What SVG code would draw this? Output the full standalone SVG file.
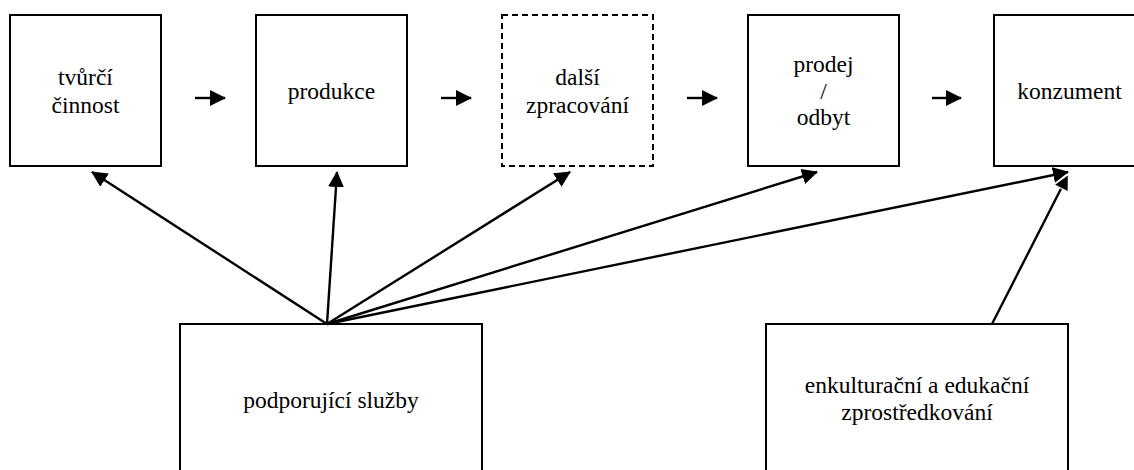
<svg xmlns="http://www.w3.org/2000/svg" width="1134" height="470" viewBox="0 0 1134 470">
  <defs>
    <marker id="head" viewBox="0 0 16 16" refX="15" refY="8" markerWidth="16" markerHeight="16" markerUnits="userSpaceOnUse" orient="auto">
      <path d="M0,0 L16,8 L0,16 Z" fill="#000"/>
    </marker>
    <!-- same head with a thin white rim, used where two heads overlap -->
    <marker id="head-rim" viewBox="-2 -2 20 20" refX="15" refY="8" markerWidth="20" markerHeight="20" markerUnits="userSpaceOnUse" orient="auto">
      <path d="M0,0 L16,8 L0,16 Z" fill="#000" stroke="#fff" stroke-width="1.3"/>
    </marker>
    <style>
      .box { fill: #fff; stroke: #000; stroke-width: 2; }
      .dashed { stroke-dasharray: 6 4; }
      .lbl { font-family: Tinos, "Liberation Serif", serif; font-size: 23.5px; fill: #000; text-anchor: middle; }
      .conn { stroke: #000; stroke-width: 2.4; fill: none; marker-end: url(#head); }
    </style>
  </defs>
  <rect width="1134" height="470" fill="#fff"/>

  <g id="n-tvurci">
    <rect class="box" x="10" y="15" width="151" height="151"/>
    <text class="lbl" x="85.5" y="85">tvůrčí</text>
    <text class="lbl" x="85.5" y="113">činnost</text>
  </g>
  <g id="n-produkce">
    <rect class="box" x="256" y="15" width="151" height="151"/>
    <text class="lbl" x="331.5" y="99">produkce</text>
  </g>
  <g id="n-zpracovani">
    <rect class="box dashed" x="502" y="15" width="151" height="151"/>
    <text class="lbl" x="577.5" y="85">další</text>
    <text class="lbl" x="577.5" y="113">zpracování</text>
  </g>
  <g id="n-prodej">
    <rect class="box" x="748" y="15" width="151" height="151"/>
    <text class="lbl" x="823.5" y="72">prodej</text>
    <text class="lbl" x="823.5" y="99">/</text>
    <text class="lbl" x="823.5" y="125">odbyt</text>
  </g>
  <g id="n-konzument">
    <rect class="box" x="994" y="15" width="151" height="151"/>
    <text class="lbl" x="1069.5" y="99">konzument</text>
  </g>
  <g id="n-podporujici">
    <rect class="box" x="180" y="324" width="302" height="160"/>
    <text class="lbl" x="331" y="408">podporující služby</text>
  </g>
  <g id="n-enkulturacni">
    <rect class="box" x="766" y="324" width="302" height="160"/>
    <text class="lbl" x="917" y="393">enkulturační a edukační</text>
    <text class="lbl" x="917" y="420">zprostředkování</text>
  </g>

  <g id="connectors">
    <line class="conn" x1="195" y1="98" x2="225" y2="98"/>
    <line class="conn" x1="441" y1="98" x2="471" y2="98"/>
    <line class="conn" x1="687" y1="98" x2="717" y2="98"/>
    <line class="conn" x1="932" y1="98" x2="961" y2="98"/>

    <line class="conn" x1="327" y1="324" x2="92" y2="172"/>
    <line class="conn" x1="327" y1="324" x2="337" y2="172"/>
    <line class="conn" x1="327" y1="324" x2="570" y2="172"/>
    <line class="conn" x1="327" y1="324" x2="817" y2="172"/>
    <line class="conn" x1="327" y1="324" x2="1068" y2="172"/>
    <line class="conn" x1="992" y1="324" x2="1068" y2="175" style="marker-end: url(#head-rim)"/>
  </g>
</svg>
